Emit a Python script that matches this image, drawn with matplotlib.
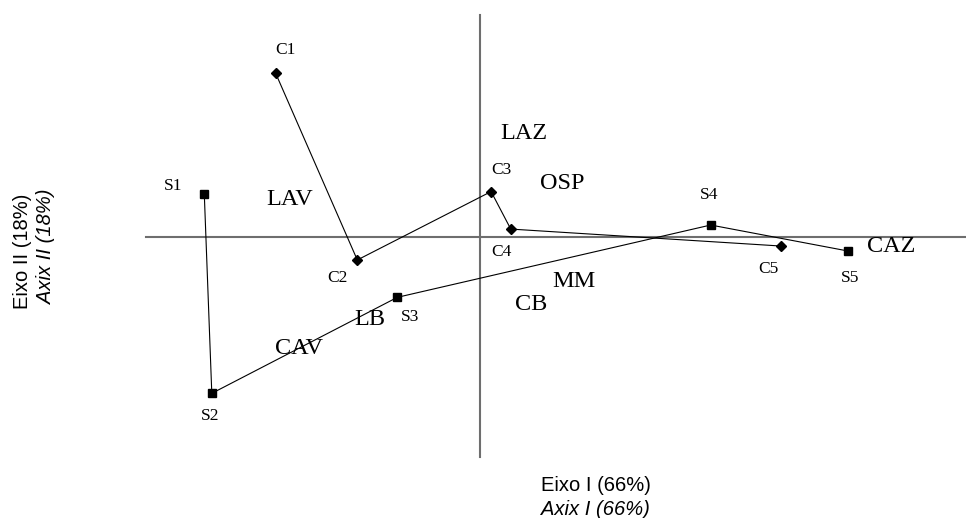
"""Ordination biplot (eixo I x eixo II) with site trajectories and species labels."""

import matplotlib
matplotlib.use("Agg")
import matplotlib.pyplot as plt

# ---------------------------------------------------------------------------
# Data (ordination scores)
# ---------------------------------------------------------------------------

c_names = ["C1", "C2", "C3", "C4", "C5"]
c_x = [-1.359, -0.815, 0.077, 0.208, 2.008]
c_y = [1.089, -0.155, 0.301, 0.051, -0.062]

s_names = ["S1", "S2", "S3", "S4", "S5"]
s_x = [-1.835, -1.785, -0.548, 1.541, 2.455]
s_y = [0.283, -1.044, -0.404, 0.078, -0.095]

species = ["LAZ", "OSP", "LAV", "MM", "CB", "CAZ", "LB", "CAV"]
species_x = [0.292, 0.548, -1.263, 0.632, 0.347, 2.741, -0.735, -1.203]
species_y = [0.689, 0.356, 0.245, -0.300, -0.455, -0.067, -0.555, -0.744]

# label offsets for the site names, in pixels
c_offsets = [(10, 23), (-20, -18), (10, 22), (-9, -23), (-12, -23)]
s_offsets = [(-31, 8), (-2, -23), (13, -20), (-2, 30), (2, -27)]

SERIF = "Liberation Serif"
SANS = "Liberation Sans"

fig = plt.figure(figsize=(9.66, 5.18), dpi=100)
ax = fig.add_axes([0, 0, 1, 1])
ax.set_xlim(-3.197, 3.243)
ax.set_ylim(-1.875, 1.578)
ax.axis("off")

# reference axes
ax.plot([0, 0], [-1.467, 1.478], color="#6e6e6e", lw=1.5, zorder=1)
ax.plot([-2.223, 3.3], [0, 0], color="#6e6e6e", lw=1.5, zorder=1)

# trajectories
ax.plot(c_x, c_y, color="black", lw=0.8, marker="D", ms=5.5, zorder=3)
ax.plot(s_x, s_y, color="black", lw=0.8, marker="s", ms=6, zorder=3)

for name, x, y, off in zip(c_names, c_x, c_y, c_offsets):
    ax.annotate(name, (x, y), xytext=off, textcoords="offset pixels",
                ha="center", va="center", fontsize=12.5, family=SERIF)
for name, x, y, off in zip(s_names, s_x, s_y, s_offsets):
    ax.annotate(name, (x, y), xytext=off, textcoords="offset pixels",
                ha="center", va="center", fontsize=12.5, family=SERIF)

for name, x, y in zip(species, species_x, species_y):
    ax.text(x, y, name, ha="center", va="center", fontsize=17.5, family=SERIF)

# axis titles
fig.text(0.6165, 0.062, "Eixo I (66%)", ha="center", va="center",
         fontsize=14.5, family=SANS)
fig.text(0.6168, 0.017, "Axix I (66%)", ha="center", va="center",
         fontsize=14.5, family=SANS, style="italic")
fig.text(0.0235, 0.5145, "Eixo II (18%)", ha="center", va="center",
         fontsize=14.5, family=SANS, rotation=90)
fig.text(0.0483, 0.523, "Axix II (18%)", ha="center", va="center",
         fontsize=14.5, family=SANS, style="italic", rotation=90)

fig.savefig("out.png", dpi=100)
plt.close(fig)
